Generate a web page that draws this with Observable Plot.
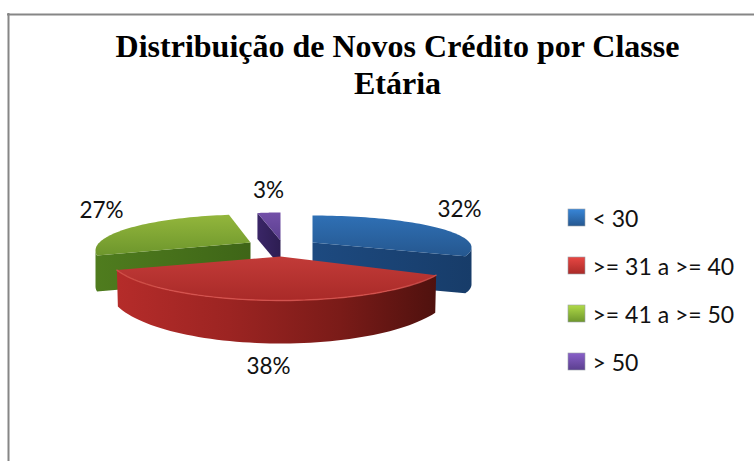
<!DOCTYPE html>
<html><head><meta charset="utf-8">
<script src="https://cdn.jsdelivr.net/npm/d3@7"></script>
<script src="https://cdn.jsdelivr.net/npm/@observablehq/plot@0.6"></script>
<style>html,body{margin:0;padding:0;background:#fff}svg{display:block}</style>
</head><body><div id="chart"></div>
<script>
const categories = ["< 30", ">= 31 a >= 40", ">= 41 a >= 50", "> 50"];
const shares = [32, 38, 27, 3];
const titleLines = ["Distribuição de Novos Crédito por Classe", "Etária"];

// Drawing set-up for the 3D look (screen units of the identity x/y scales)
const look = [
  {top:["#2f70b5","#25578f"], wall:["#1d4a80","#173c69"], apex:[312,242], c:[312,247], rx:159, ry:32, p0:0, k:.92, depth:37, wallFrom:90, lab:[459,216], leg:209},
  {top:["#c23b38","#a92a28"], wall:["#b52a28","#4f110e"], apex:[280,256], c:[280,256], rx:172, ry:44, p0:115.2, k:1, depth:0, lab:[268,373], leg:257},
  {top:["#93b63c","#6d962c"], wall:["#4f7c1e","#3e6517"], apex:[250,242], c:[250,250], rx:155, ry:36, p0:262, k:.926, depth:36, wallFrom:270, lab:[101,217], leg:305},
  {top:["#7350a8","#5b3f8f"], wall:["#3a2667","#2d1d52"], apex:[280,240], c:[280,240], rx:123, ry:28, p0:349.2, k:1, depth:26, lab:[268,197], leg:353}
];
const rad = d => d * Math.PI / 180;

let acc = 0;
const slices = shares.map((v, i) => {
  const a0 = acc * 3.6; acc += v; const a1 = acc * 3.6;
  return {i, v, name: categories[i], a0, a1, ...look[i]};
});
const rimPt = (s, a) => { const p = s.p0 + (a - s.a0) * s.k;
  return [s.c[0] + s.rx * Math.sin(rad(p)), s.c[1] - s.ry * Math.cos(rad(p)), p]; };
const rim = s => d3.range(0, 61).map(j => rimPt(s, s.a0 + (s.a1 - s.a0) * j / 60));

function topFace(s) {
  const pts = [s.apex, ...rim(s)];
  return pts.map(p => ({x:p[0], y:p[1], id:"t"+s.i}));
}
function wallFace(s) {
  if (s.i === 1) { // red: outer front wall, deeper towards the viewer
    const r = rim(s);
    const low = r.map(p => { const a = rad(p[2]);
      return [s.apex[0] + (s.rx - 1) * Math.sin(a), s.apex[1] + 33.4 - 53.6 * Math.cos(a)]; });
    return [...r, ...low.reverse()].map(p => ({x:p[0], y:p[1]}));
  }
  const r = rim(s);
  let edge;
  if (s.i === 0) edge = [s.apex, ...r.filter(p => p[2] >= s.wallFrom).reverse()];
  else if (s.i === 2) edge = [s.apex, ...r.filter(p => p[2] <= s.wallFrom)];
  else edge = [s.apex, r[0]];
  const low = edge.map(p => [p[0], p[1] + s.depth]);
  return [...edge, ...low.reverse()].map(p => ({x:p[0], y:p[1]}));
}

const gradients = () => {
  const svgNS = d3.create("svg:defs");
  const add = (id, cs, x2, y2, stops) => {
    const g = svgNS.append("linearGradient").attr("id", id).attr("x1",0).attr("y1",0).attr("x2",x2).attr("y2",y2);
    (stops || cs.map((c, n) => [n/(cs.length-1), c])).forEach(([o,c]) => g.append("stop").attr("offset",o).attr("stop-color",c));
  };
  slices.forEach(s => {
    add("top"+s.i, s.top, 0, 1);
    add("wall"+s.i, s.wall, 1, 0, s.i === 1 ? [[0,"#b52c2a"],[.35,"#9c2422"],[.7,"#7a1b18"],[1,"#4f110e"]] : null);
    add("leg"+s.i, [d3.rgb(s.top[0]).brighter(.5).formatHex(), s.top[1]], 0, 1);
  });
  return svgNS.node();
};

const order = [3, 2, 0, 1];
const marks = [gradients];
for (const i of order) {
  const s = slices[i];
  marks.push(Plot.line(wallFace(s), {x:"x", y:"y", fill:`url(#wall${i})`, stroke:"none", curve:"linear-closed"}));
  marks.push(Plot.line(topFace(s), {x:"x", y:"y", fill:`url(#top${i})`, stroke:"none", curve:"linear-closed"}));
}
marks.push(Plot.line(rim(slices[1]).map(p => ({x:p[0], y:p[1]})), {x:"x", y:"y", stroke:"#d8524e", strokeWidth:1.4, strokeOpacity:.8}));

// frame
marks.push(Plot.ruleY([14], {x1:7, x2:754, stroke:"#868686", strokeWidth:2}));
marks.push(Plot.ruleX([8], {y1:13, y2:461, stroke:"#868686", strokeWidth:2}));

// title
marks.push(Plot.text(titleLines, {x:()=>397, y:(d,i)=>[56,93][i], text:d=>d, fontFamily:"Liberation Serif", fontWeight:"bold", fontSize:32, fill:"#000", textAnchor:"middle", lineAnchor:"bottom"}));

// labels
marks.push(Plot.text(slices, {x:d=>d.lab[0], y:d=>d.lab[1], text:d=>d.v+"%", fontFamily:"Lato", fontSize:22.5, fill:"#111", textAnchor:"middle", lineAnchor:"bottom"}));

// legend
marks.push(Plot.rect(slices, {x1:()=>568, x2:()=>585, y1:d=>d.leg, y2:d=>d.leg+17, fill:d=>`url(#leg${d.i})`, stroke:"#9aa0a8", strokeWidth:.6}));
marks.push(Plot.text(slices, {x:()=>592, y:d=>d.leg+17, text:"name", fontFamily:"Lato", fontSize:23, fill:"#111", textAnchor:"start", lineAnchor:"bottom"}));

document.getElementById("chart").append(Plot.plot({
  width:754, height:461, margin:0,
  x:{type:"identity", axis:null}, y:{type:"identity", axis:null},
  style:{background:"#fff"},
  marks
}));
</script></body></html>
